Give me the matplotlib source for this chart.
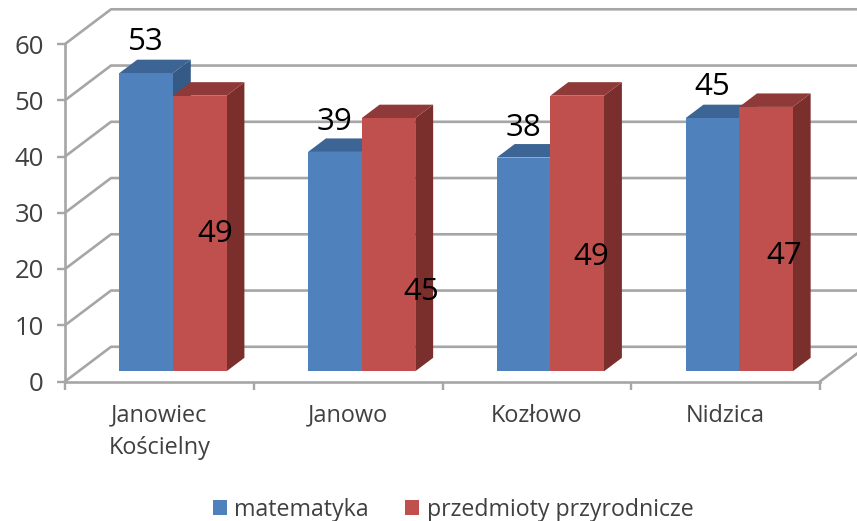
import matplotlib
matplotlib.use("Agg")
import matplotlib.pyplot as plt
from matplotlib.patches import Polygon, Patch

plt.rcParams['font.family'] = ['Open Sans', 'DejaVu Sans']

categories = ["Janowiec\nKościelny", "Janowo", "Kozłowo", "Nidzica"]
matematyka = [53, 39, 38, 45]
przyroda = [49, 45, 49, 47]
y_ticks = [0, 10, 20, 30, 40, 50, 60]

W, H = 857, 521

# 3D look, wall depth measured in data units
DX = 46 / 188.75
DY = 34.7 / 5.625
BAR_W = 0.284
BAR_GAP = 0.216
BAR_FRONT = 0.294
BAR_BACK = 0.683

GRID = "#A6A6A6"
TEXT = "#404040"

fig = plt.figure(figsize=(W / 100, H / 100), dpi=100)
ax = fig.add_axes([65 / W, 1 - 381.5 / H, 755 / W, 337.5 / H])
ax.set_xlim(0, 4)
ax.set_ylim(0, 60)
ax.patch.set_visible(False)

for s in ["top", "right"]:
    ax.spines[s].set_visible(False)
for s in ["left", "bottom"]:
    ax.spines[s].set_color(GRID)
    ax.spines[s].set_linewidth(1.9)

ax.set_yticks(y_ticks)
ax.set_xticks(range(5))
ax.set_xticklabels([])
ax.tick_params(axis='both', which='major', color=GRID, width=1.7, length=5.8)
ax.tick_params(axis='y', labelsize=18.5, labelcolor=TEXT, pad=9.5)
ax.set_xticks([i + 0.5 for i in range(4)], minor=True)
ax.set_xticklabels(categories, minor=True, fontsize=16.9, color=TEXT, linespacing=1.48)
ax.tick_params(axis='x', which='minor', length=0, pad=16)

# back wall and side wall lines
for v in y_ticks:
    ax.plot([0, DX, 4 + DX], [v, v + DY, v + DY], color=GRID, lw=1.9, clip_on=False, zorder=1)
ax.plot([4, 4 + DX], [0, DY], color=GRID, lw=1.9, clip_on=False, zorder=1)


def bar3d(x, v, front, top, side):
    x0 = x + BAR_FRONT * DX
    y0 = BAR_FRONT * DY
    y1 = v + y0
    dx = (BAR_BACK - BAR_FRONT) * DX
    dy = (BAR_BACK - BAR_FRONT) * DY
    x1 = x0 + BAR_W
    ax.add_patch(Polygon([(x1, y0), (x1 + dx, y0 + dy), (x1 + dx, y1 + dy), (x1, y1)],
                         fc=side, ec="none", clip_on=False, zorder=2))
    ax.add_patch(Polygon([(x0, y1), (x0 + dx, y1 + dy), (x1 + dx, y1 + dy), (x1, y1)],
                         fc=top, ec="none", clip_on=False, zorder=2))
    ax.add_patch(Polygon([(x0, y0), (x1, y0), (x1, y1), (x0, y1)],
                         fc=front, ec="none", clip_on=False, zorder=2))
    return (x0 + x1) / 2, y1


# labels were moved by hand in the original, offsets in pixels from the bar top
blue_offsets = [(0, 31), (0, 30), (0, 30), (0, 31)]
red_offsets = [(16, -138), (33, -174), (14, -161), (18, -149)]

for i in range(len(categories)):
    cx, cy = bar3d(i + BAR_GAP, matematyka[i], "#4F81BD", "#3C6494", "#345A85")
    ax.annotate(str(matematyka[i]), (cx, cy), xytext=blue_offsets[i], textcoords='offset pixels',
                ha='center', va='center', fontsize=22.5, color="black", zorder=5)
    cx, cy = bar3d(i + BAR_GAP + BAR_W, przyroda[i], "#C0504D", "#8F3A38", "#7A2F2D")
    ax.annotate(str(przyroda[i]), (cx, cy), xytext=red_offsets[i], textcoords='offset pixels',
                ha='center', va='center', fontsize=22.5, color="black", zorder=5)

handles = [Patch(fc="#4F81BD", label="matematyka"), Patch(fc="#C0504D", label="przedmioty przyrodnicze")]
fig.legend(handles=handles, loc='center', bbox_to_anchor=(453 / W, 1 - 510 / H), ncol=2, frameon=False,
           fontsize=16.7, labelcolor=TEXT, handlelength=0.62, handleheight=0.62,
           handletextpad=0.32, columnspacing=1.55, borderpad=0, borderaxespad=0)

plt.savefig("out.png", dpi=100)
